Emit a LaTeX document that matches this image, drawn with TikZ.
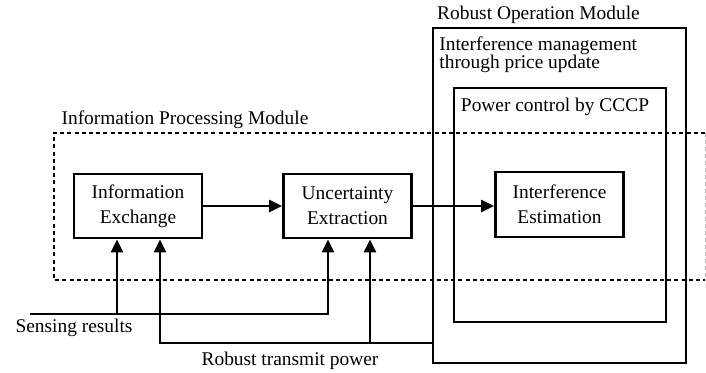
\documentclass[tikz,border=0pt]{standalone}
\usepackage{fontspec}
\setmainfont{Liberation Serif}
\newfontfamily\diagfont{Liberation Serif}
\usetikzlibrary{arrows.meta,positioning}

\begin{document}
\begin{tikzpicture}[x=0.5pt,y=-0.5pt,>={Triangle[length=6.5pt,width=6pt]},
    every node/.style={font=\diagfont\fontsize{9.7}{12.5}\selectfont}]
  \tikzstyle{block}=[rectangle,draw,line width=1.4pt,minimum width=64pt,minimum height=32pt,align=center,inner sep=1pt]
  \tikzstyle{frame}=[rectangle,draw,line width=1.4pt,inner sep=0pt]
  \tikzstyle{flow}=[->,line width=1.3pt]
  \tikzstyle{caption}=[inner sep=0pt]

  \useasboundingbox (0,0) rectangle (706,373);

  % Robust operation module and its inner loop
  \node[frame, minimum width=126.5pt, minimum height=167.5pt] (robust) at (559.5,195.5) {};
  \node[frame, minimum width=106pt, minimum height=117pt] (pcccp) at (560,205) {};

  % Information processing module (dashed)
  \draw[line width=1.4pt, dash pattern=on 2pt off 1.6pt] (705,133) -- (54,133) -- (54,280) -- (705,280);
  \draw[gray!60, line width=0.4pt, dash pattern=on 2pt off 1.5pt] (705,133) -- (705,280);

  % Processing blocks
  \node[block] (infoex) at (138,206) {Information\\Exchange};
  \node[block] (uncext) at (347.5,206) {Uncertainty\\Extraction};
  \node[block, minimum height=32.5pt] (intest) at (559.5,204.5) {Interference\\Estimation};

  % Labels
  \node[caption, anchor=base] (robtxt) at (538.5,20) {Robust Operation Module};
  \node[caption, anchor=west, align=left, font=\diagfont\fontsize{9.7}{9}\selectfont] (imtxt) at (439,55) {Interference management\\through price update};
  \node[caption, anchor=base] (pctxt) at (555,112) {Power control by CCCP};
  \node[caption, anchor=base] (iptxt) at (185,125) {Information Processing Module};
  \node[caption, anchor=base] (srtxt) at (74,333) {Sensing results};
  \node[caption, anchor=base] (rptxt) at (290,365) {Robust transmit power};

  % Connectors
  \coordinate (sense) at (30,314);
  \coordinate (power) at (robust.west |- 0,343);
  \draw[flow] (infoex) -- (uncext);
  \draw[flow] (uncext) -- (uncext -| intest.west);
  \draw[flow] (sense) -| ([xshift=-9.75pt]uncext.south);
  \draw[flow] ([xshift=-10.5pt]infoex.south |- sense) -- ([xshift=-10.5pt]infoex.south);
  \draw[flow] (power) -| ([xshift=11pt]infoex.south);
  \draw[flow] ([xshift=11.25pt]uncext.south |- power) -- ([xshift=11.25pt]uncext.south);
\end{tikzpicture}
\end{document}
